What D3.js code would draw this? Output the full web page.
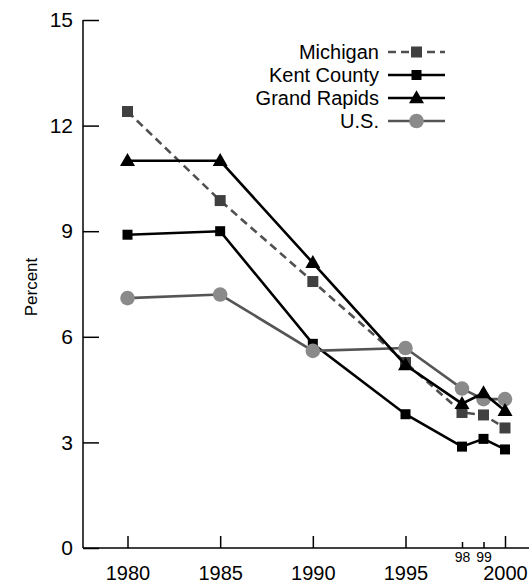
<!DOCTYPE html>
<html><head><meta charset="utf-8">
<script src="https://cdn.jsdelivr.net/npm/d3@7"></script>
<style>body{margin:0;background:#fff}svg{display:block;font-family:"Liberation Sans",Arial,sans-serif}</style>
</head><body><svg id="c" width="529" height="584"></svg>
<script>
const years = [1980, 1985, 1990, 1995, 1998, 1999, 2000];
const majorYears = [1980, 1985, 1990, 1995, 2000];
const minorYears = [1998, 1999];
const minorLabels = ["98", "99"];
const yTicks = [0, 3, 6, 9, 12, 15];
const seriesNames = ["Michigan", "Kent County", "Grand Rapids", "U.S."];
const michigan = [12.4, 9.87, 7.57, 5.27, 3.85, 3.78, 3.41];
const kent = [8.9, 9.0, 5.8, 3.8, 2.88, 3.1, 2.8];
const grandRapids = [11.0, 11.0, 8.1, 5.2, 4.1, 4.4, 3.9];
const us = [7.1, 7.2, 5.6, 5.68, 4.53, 4.23, 4.23];

const svg = d3.select("#c");
const x = d3.scaleLinear().domain([1980, 1995, 1998, 2000]).range([127.5, 405.5, 462, 505]);
const y = d3.scaleLinear().domain([0, 15]).range([548, 20]);
const axisX0 = 83, axisRight = 529;

// y axis
const gy = svg.append("g").attr("transform", `translate(${axisX0},0)`)
  .call(d3.axisLeft(y).tickValues(yTicks).tickSize(-16).tickPadding(10).tickSizeOuter(0));
gy.select(".domain").remove();
gy.selectAll(".tick line").attr("stroke", "#000").attr("stroke-width", 1.5);
gy.selectAll(".tick text").attr("font-size", 21).attr("fill", "#000").attr("font-family", "Liberation Sans, Arial, sans-serif");
svg.append("line").attr("x1", axisX0).attr("x2", axisX0).attr("y1", y(15)).attr("y2", y(0)).attr("stroke", "#000").attr("stroke-width", 1.5);

// x axis
const gx = svg.append("g").attr("transform", `translate(0,${y(0)})`)
  .call(d3.axisBottom(x).tickValues(majorYears).tickFormat(d3.format("d")).tickSize(-12).tickPadding(18).tickSizeOuter(0));
gx.select(".domain").remove();
gx.selectAll(".tick line").attr("stroke", "#000").attr("stroke-width", 1.5);
gx.selectAll(".tick text").attr("font-size", 20).attr("fill", "#000").attr("font-family", "Liberation Sans, Arial, sans-serif");
const gx2 = svg.append("g").attr("transform", `translate(0,${y(0)})`)
  .call(d3.axisBottom(x).tickValues(minorYears).tickFormat((d, i) => minorLabels[i]).tickSize(-6).tickPadding(4).tickSizeOuter(0));
gx2.select(".domain").remove();
gx2.selectAll(".tick line").attr("stroke", "#000").attr("stroke-width", 1.5);
gx2.selectAll(".tick text").attr("font-size", 14).attr("fill", "#000").attr("font-family", "Liberation Sans, Arial, sans-serif");
svg.append("line").attr("x1", axisX0).attr("x2", axisRight).attr("y1", y(0)).attr("y2", y(0)).attr("stroke", "#000").attr("stroke-width", 1.5);

// y label
svg.append("text").attr("transform", "translate(37,287) rotate(-90)").attr("text-anchor", "middle")
  .attr("font-size", 17).text("Percent");

const styles = [
  {data: michigan, line: "#505050", fill: "#404040", dash: "8,5", shape: "square", size: 11},
  {data: kent, line: "#000", fill: "#000", dash: null, shape: "square", size: 10},
  {data: us, line: "#555", fill: "#8a8a8a", dash: null, shape: "circle", size: 7.3},
  {data: grandRapids, line: "#000", fill: "#000", dash: null, shape: "triangle", size: 15}
];
function marker(g, s, cx, cy) {
  if (s.shape === "square") {
    g.append("rect").attr("x", cx - s.size / 2).attr("y", cy - s.size / 2).attr("width", s.size).attr("height", s.size).attr("fill", s.fill);
  } else if (s.shape === "circle") {
    g.append("circle").attr("cx", cx).attr("cy", cy).attr("r", s.size).attr("fill", s.fill);
  } else {
    const w = s.size, h = 13;
    g.append("path").attr("d", `M${cx},${cy - h * 0.6}L${cx + w / 2},${cy + h * 0.4}L${cx - w / 2},${cy + h * 0.4}Z`).attr("fill", s.fill);
  }
}
const line = d3.line().x((d, i) => x(years[i])).y(d => y(d));
styles.forEach(s => {
  const g = svg.append("g");
  g.append("path").attr("d", line(s.data)).attr("fill", "none").attr("stroke", s.line).attr("stroke-width", 2.6)
    .attr("stroke-dasharray", s.dash);
  s.data.forEach((v, i) => marker(g, s, x(years[i]), y(v)));
});

// legend
const legY = [52, 75, 98, 121];
const legStyles = [styles[0], styles[1], styles[3], styles[2]];
seriesNames.forEach((name, i) => {
  const s = legStyles[i];
  const g = svg.append("g");
  g.append("text").attr("x", 379).attr("y", legY[i]).attr("dy", "0.35em").attr("text-anchor", "end").attr("font-size", 20).text(name);
  g.append("line").attr("x1", 388).attr("x2", 445).attr("y1", legY[i]).attr("y2", legY[i]).attr("stroke", s.line).attr("stroke-width", 2.6).attr("stroke-dasharray", s.dash);
  marker(g, s, 416.5, legY[i]);
});
</script></body></html>
